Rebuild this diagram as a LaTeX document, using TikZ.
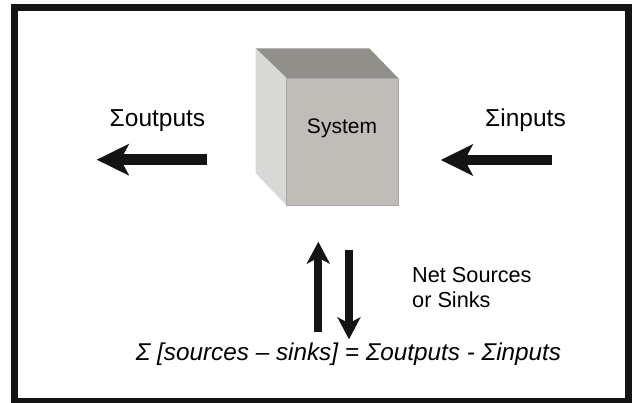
\documentclass[tikz,border=0pt]{standalone}
\usepackage{fontspec}
\setmainfont{Liberation Sans}
\usetikzlibrary{arrows.meta}
\definecolor{boxtop}{RGB}{145,143,138}
\definecolor{boxfront}{RGB}{192,189,184}
\definecolor{boxside}{RGB}{216,216,214}
\definecolor{boxedge}{RGB}{168,166,162}
\definecolor{inkblack}{RGB}{20,20,20}

\begin{document}
\begin{tikzpicture}[x=1pt, y=-1pt,
	flow/.style={line width=10.7pt, inkblack, -{Stealth[length=32pt, width=31pt, inset=8pt]}},
	netflow/.style={line width=8pt, inkblack, -{Stealth[length=22pt, width=23pt, inset=6pt]}},
	lbl/.style={inner sep=0pt, font=\fontsize{24.5}{28}\selectfont}]
	\useasboundingbox (0,0) rectangle (632,403);

	% frame
	\draw[line width=7pt, inkblack] (14.5,7.5) rectangle (628.5,401.5);

	\def\bl{255.7}
	\def\fl{286.7}
	\def\fr{398.3}
	\def\bt{48.3}
	\def\ft{78.3}
	\def\fb{205.7}

	% box faces
	\fill[boxtop] (\bl,\bt) -- (369.3,\bt) -- (\fr,\ft) -- (\fl,\ft) -- cycle;
	\fill[boxside] (\bl,\bt) -- (\fl,\ft) -- (\fl,\fb) -- (\bl,173.3) -- cycle;
	\filldraw[fill=boxfront, draw=boxedge, line width=1.2pt] (\fl,\ft) rectangle (\fr,\fb);

	\node[lbl, anchor=base, font=\fontsize{21}{25}\selectfont] (system) at (342,134) {System};

	% in and out
	\node[lbl, anchor=base] (outputs) at (157.5,127) {Σoutputs};
	\node[lbl, anchor=base] (inputs) at (525.5,126.7) {Σinputs};

	\coordinate (outtail) at (207.3,159.7);
	\coordinate (outtip) at (96.7,159.7);
	\coordinate (intail) at (551.7,160);
	\coordinate (intip) at (440.7,160);
	\draw[flow] (outtail) -- (outtip);
	\draw[flow] (intail) -- (intip);

	% sources and sinks
	\coordinate (uptail) at (318.3,331.7);
	\coordinate (uptip) at (318.3,241.7);
	\coordinate (downtail) at (349,250);
	\coordinate (downtip) at (349,339.3);
	\draw[netflow] (uptail) -- (uptip);
	\draw[netflow] (downtail) -- (downtip);

	\node[lbl, anchor=base west, font=\fontsize{21.7}{25}\selectfont] (netsrc) at (412,283) {Net Sources};
	\node[lbl, anchor=base west, font=\fontsize{21.7}{25}\selectfont] (orsinks) at (412,308) {or Sinks};

	\node[lbl, anchor=base, font=\fontsize{24.3}{28}\selectfont\itshape] (balance) at (348.5,360)
		{Σ [sources -- sinks] = Σoutputs - Σinputs};
\end{tikzpicture}
\end{document}
